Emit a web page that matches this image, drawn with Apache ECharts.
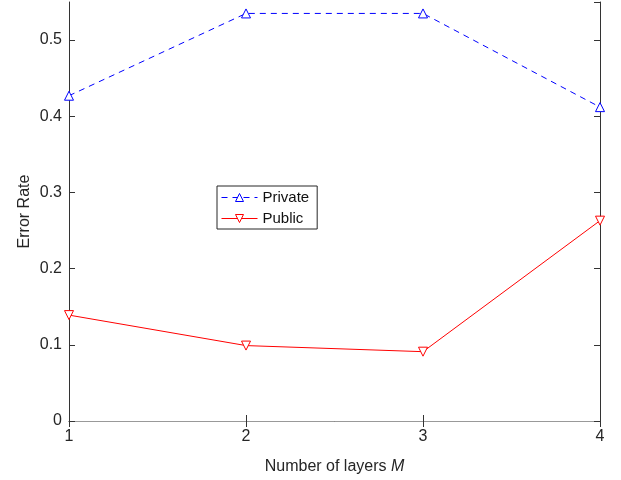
<!DOCTYPE html>
<html>
<head>
<meta charset="utf-8">
<script src="https://cdn.jsdelivr.net/npm/echarts@6/dist/echarts.min.js"></script>
<style>
  html, body { margin: 0; padding: 0; background: #fff; }
  #chart { width: 621px; height: 480px; }
</style>
</head>
<body>
<div id="chart"></div>
<script>
const layers = [1, 2, 3, 4];
const privateRate = [0.427, 0.535, 0.535, 0.412];
const publicRate = [0.139, 0.099, 0.091, 0.263];

const font = "Liberation Sans";
const chart = echarts.init(document.getElementById("chart"));

const pairs = (xs, ys) => xs.map((x, i) => [x, ys[i]]);

chart.setOption({
  animation: false,
  textStyle: { fontFamily: font },
  grid: { left: 69, right: 21, top: 2, bottom: 59 },
  legend: {
    left: 217,
    top: 186,
    orient: "vertical",
    itemWidth: 36,
    itemHeight: 10,
    itemGap: 6,
    padding: [4, 8, 3, 4],
    borderColor: "#262626",
    borderWidth: 1,
    backgroundColor: "#fff",
    lineStyle: { width: 1 },
    itemStyle: { borderWidth: 1 },
    textStyle: { fontFamily: font, fontSize: 15, color: "#111" },
    data: ["Private", "Public"],
  },
  xAxis: [
    {
      type: "value",
      min: 1,
      max: 4,
      interval: 1,
      name: "{a|Number of layers }{b|M}",
      nameLocation: "middle",
      nameGap: 38,
      nameTextStyle: {
        rich: {
          a: { fontFamily: font, fontSize: 16, color: "#262626" },
          b: { fontFamily: font, fontSize: 16, color: "#262626", fontStyle: "italic" },
        },
      },
      axisLine: { show: true, lineStyle: { color: "#333", width: 1 } },
      axisTick: { show: true, inside: true, length: 6, lineStyle: { color: "#333" } },
      axisLabel: { fontSize: 16, color: "#262626", margin: 8 },
      splitLine: { show: false },
    },
    {
      type: "value",
      position: "top",
      min: 1,
      max: 4,
      interval: 1,
      axisLine: { show: true, lineStyle: { color: "#999", width: 1 } },
      axisTick: { show: true, inside: true, length: 6, lineStyle: { color: "#333" } },
      axisLabel: { show: false },
      splitLine: { show: false },
    },
  ],
  yAxis: [
    {
      type: "value",
      min: 0,
      max: 0.55,
      interval: 0.1,
      name: "Error Rate",
      nameLocation: "middle",
      nameGap: 36,
      nameMoveOverlap: false,
      nameTextStyle: { fontFamily: font, fontSize: 16, color: "#262626" },
      axisLine: { show: true, lineStyle: { color: "#333", width: 1 } },
      axisTick: { show: true, inside: true, length: 6, lineStyle: { color: "#333" } },
      axisLabel: { fontSize: 16, color: "#262626", margin: 7, showMaxLabel: false },
      splitLine: { show: false },
    },
    {
      type: "value",
      position: "right",
      min: 0,
      max: 0.55,
      interval: 0.1,
      axisLine: { show: true, lineStyle: { color: "#333", width: 1 } },
      axisTick: { show: true, inside: true, length: 6, lineStyle: { color: "#333" } },
      axisLabel: { show: false },
      splitLine: { show: false },
    },
  ],
  series: [
    {
      name: "Private",
      type: "line",
      data: pairs(layers, privateRate),
      symbol: "triangle",
      symbolSize: 9,
      itemStyle: { color: "#fff", borderColor: "#0000ff", borderWidth: 1 },
      lineStyle: { color: "#0000ff", width: 1, type: [6, 5] },
      color: "#0000ff",
    },
    {
      name: "Public",
      type: "line",
      data: pairs(layers, publicRate),
      symbol: "triangle",
      symbolRotate: 180,
      symbolSize: 9,
      itemStyle: { color: "#fff", borderColor: "#ff0000", borderWidth: 1 },
      lineStyle: { color: "#ff0000", width: 1 },
      color: "#ff0000",
    },
  ],
});
</script>
</body>
</html>
